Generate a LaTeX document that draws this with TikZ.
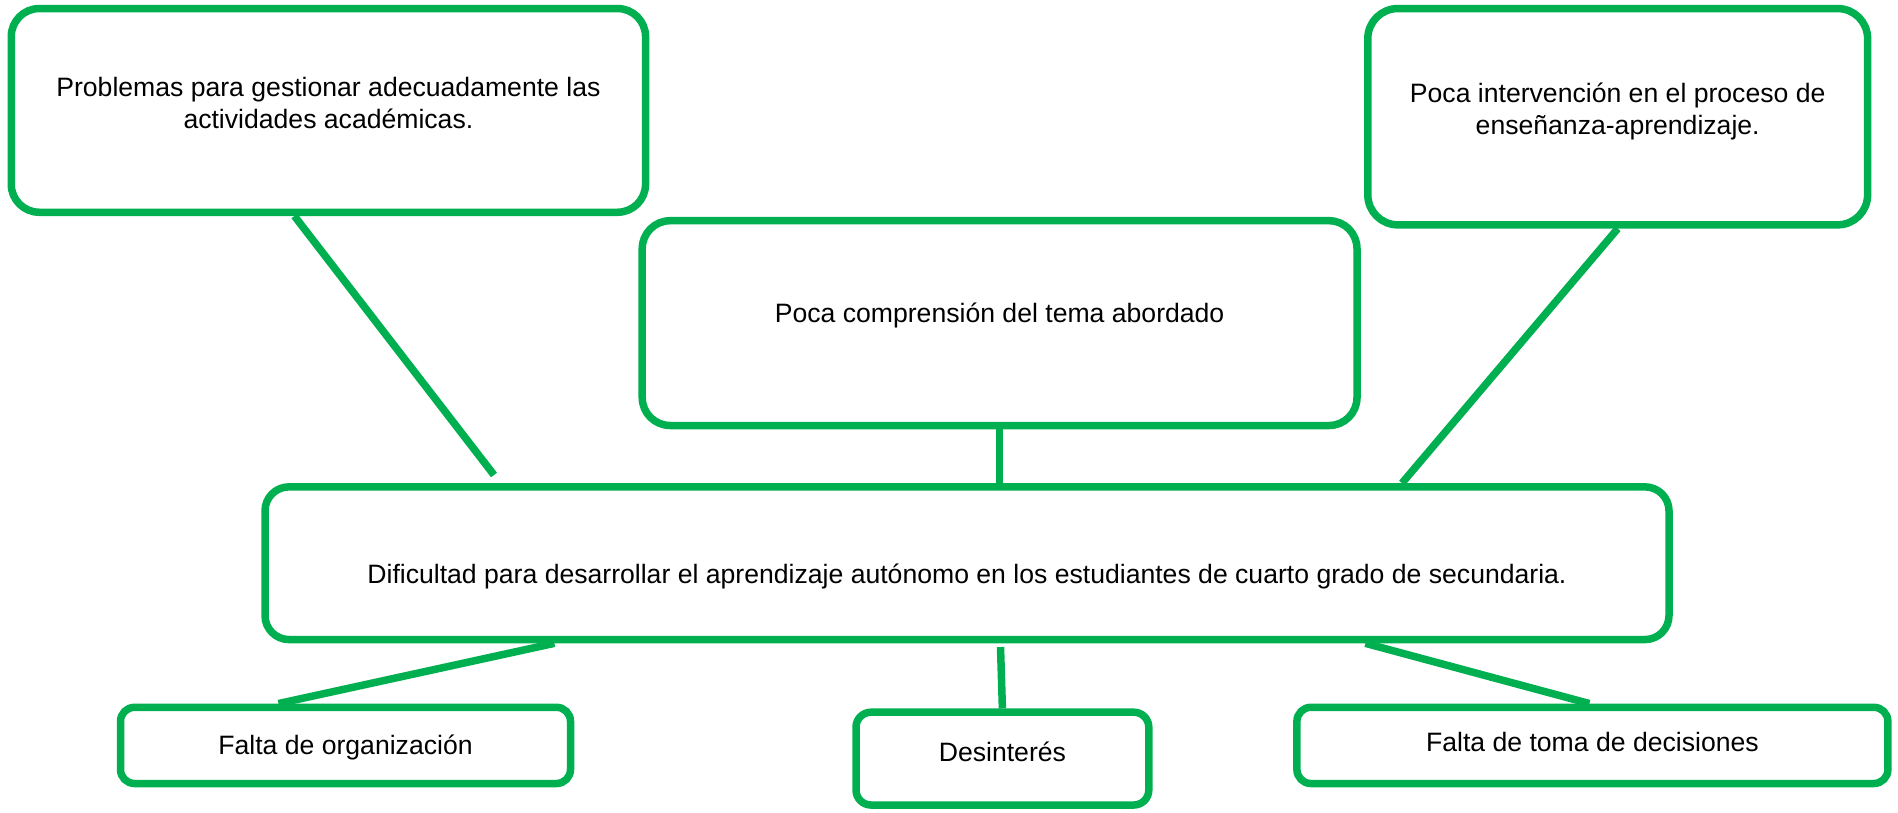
\documentclass[tikz,border=0pt]{standalone}
\usepackage{fontspec}
\setmainfont{Liberation Sans}
\usetikzlibrary{calc}
\definecolor{boxgreen}{HTML}{00B050}
\newcommand\lift[2]{\raisebox{#1}[\height][\depth]{#2}}

\begin{document}
\begin{tikzpicture}[x=1pt,y=-1pt,
		font=\fontsize{26.6}{32}\selectfont,
		box/.style={draw=boxgreen,line width=7.5pt,rounded corners=#1,align=center,inner sep=0pt},
		box/.default=28pt,
		link/.style={boxgreen,line width=7.5pt}]
		\useasboundingbox (0,0) rectangle (1898,812);

		% causas
		\node [box,minimum width=634.3pt,minimum height=203.7pt] (gestion) at (328.4,110.4)
			{\lift{4pt}{\begin{tabular}{@{}c@{}}Problemas para gestionar adecuadamente las\\actividades académicas.\end{tabular}}};
		\node [box,minimum width=714.8pt,minimum height=204.8pt] (comprension) at (999.6,323.1)
			{\lift{8pt}{Poca comprensión del tema abordado}};
		\node [box=30pt,minimum width=499.8pt,minimum height=216.3pt] (intervencion) at (1617.7,116.7)
			{\lift{5pt}{\begin{tabular}{@{}c@{}}Poca intervención en el proceso de\\enseñanza-aprendizaje.\end{tabular}}};

		% problema central
		\node [box=24pt,minimum width=1404pt,minimum height=152.7pt] (problema) at (967,563.2)
			{\lift{-13pt}{Dificultad para desarrollar el aprendizaje autónomo en los estudiantes de cuarto grado de secundaria.}};

		% efectos
		\node [box=14pt,minimum width=450pt,minimum height=76.2pt] (organizacion) at (345.5,745.4)
			{\lift{-2pt}{Falta de organización}};
		\node [box=15pt,minimum width=292.8pt,minimum height=92.8pt] (desinteres) at (1002.4,758.6)
			{\lift{7pt}{Desinterés}};
		\node [box=14pt,minimum width=591pt,minimum height=76.2pt] (decisiones) at (1592.4,745.4)
			{\lift{3pt}{Falta de toma de decisiones}};

		\coordinate (gestionEnd) at (494,475);
		\coordinate (desinteresStart) at (1000.5,647);

		\draw [link] ($(gestion.south)+(-34,0)$) -- (gestionEnd);
		\draw [link] (comprension.south) -- (comprension.south |- problema.north);
		\draw [link] (intervencion.south) -- ($(problema.north)+(435,0)$);
		\draw [link] ($(problema.south)+(-412.6,0)$) -- ($(organizacion.north)+(-67,0)$);
		\draw [link] (desinteresStart) -- (desinteres.north);
		\draw [link] ($(problema.south)+(398.4,0)$) -- ($(decisiones.north)+(-3,0)$);
	\end{tikzpicture}
\end{document}
